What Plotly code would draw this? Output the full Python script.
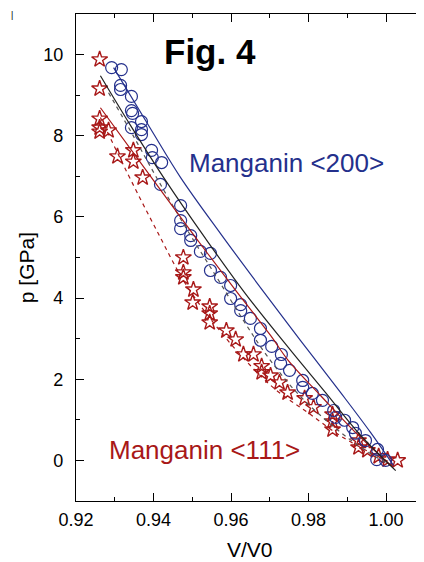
import plotly.graph_objects as go

# ---- data ----
circ_v = [0.9292, 0.9317, 0.9315, 0.9315, 0.9343, 0.9343, 0.9346, 0.9369, 0.9343, 0.9369,
          0.9369, 0.9395, 0.9397, 0.9421, 0.9418, 0.9470, 0.9470, 0.9470, 0.9496, 0.9496,
          0.9521, 0.9547, 0.9547, 0.9573, 0.9599, 0.9599, 0.9625, 0.9625, 0.9650, 0.9676,
          0.9676, 0.9705, 0.9730, 0.9728, 0.9751, 0.9785, 0.9785, 0.9810, 0.9836, 0.9865,
          0.9870, 0.9893, 0.9914, 0.9921, 0.9947, 0.9978, 0.9976, 0.9999]
circ_p = [9.68, 9.63, 9.24, 9.14, 8.97, 8.62, 8.55, 8.35, 8.20, 8.15,
          8.03, 7.64, 7.46, 7.34, 6.80, 6.28, 5.91, 5.71, 5.54, 5.42,
          5.15, 5.10, 4.68, 4.51, 4.31, 3.99, 3.84, 3.69, 3.50, 3.25,
          2.96, 2.81, 2.61, 2.39, 2.22, 1.97, 1.80, 1.65, 1.48, 1.23,
          1.06, 0.99, 0.81, 0.67, 0.49, 0.27, 0.02, 0.00]

star_v = [0.9261, 0.9261, 0.9261, 0.9261, 0.9261, 0.9284, 0.9307, 0.9348, 0.9348, 0.9372,
          0.9477, 0.9477, 0.9477, 0.9503, 0.9501, 0.9545, 0.9545, 0.9545, 0.9588, 0.9612,
          0.9632, 0.9658, 0.9679, 0.9679, 0.9702, 0.9725, 0.9746, 0.9790, 0.9813, 0.9862,
          0.9862, 0.9862, 0.9929, 0.9929, 0.9952, 0.9981, 1.0004, 1.0030]
star_p = [9.88, 9.16, 8.42, 8.20, 8.10, 8.13, 7.49, 7.64, 7.36, 6.97,
          5.00, 4.63, 4.51, 4.21, 3.89, 3.79, 3.62, 3.40, 3.20, 2.98,
          2.61, 2.61, 2.32, 2.17, 2.09, 1.92, 1.67, 1.53, 1.31, 1.13,
          0.96, 0.76, 0.49, 0.32, 0.25, 0.10, 0.02, 0.00]

blue_fit_v = [0.9297, 0.9392, 0.9470, 0.9573, 0.9676, 0.9779, 0.9883, 0.9960, 1.0019]
blue_fit_p = [9.68, 8.18, 6.97, 5.59, 4.26, 2.96, 1.67, 0.69, -0.12]

black_fit_v = [0.9263, 0.9341, 0.9431, 0.9534, 0.9637, 0.9754, 0.9844, 0.9934, 1.0025]
black_fit_p = [9.48, 8.25, 6.90, 5.47, 4.11, 2.71, 1.67, 0.62, -0.25]

gray_fit_v = [0.9284, 0.9350, 0.9412, 0.9485, 0.9560, 0.9632, 0.9692, 0.9765, 0.9845, 0.9928, 1.0010]
gray_fit_p = [9.06, 7.96, 6.90, 5.71, 4.56, 3.45, 2.59, 1.72, 0.99, 0.37, -0.12]

red_fit_v = [0.9263, 0.9400, 0.9505, 0.9612, 0.9702, 0.9748, 0.9831, 0.9921, 1.0012]
red_fit_p = [8.69, 6.90, 5.54, 4.19, 3.08, 2.46, 1.60, 0.69, -0.12]

redd_fit_v = [0.9263, 0.9304, 0.9342, 0.9408, 0.9482, 0.9560, 0.9638, 0.9718, 0.9798, 0.9880, 0.9958, 1.0012]
redd_fit_p = [8.45, 7.64, 6.90, 5.67, 4.36, 3.33, 2.46, 1.72, 1.18, 0.62, 0.20, -0.05]

x_ticks = [0.92, 0.94, 0.96, 0.98, 1.00]
y_ticks = [0, 2, 4, 6, 8, 10]

BLUE = "#24308c"
RED = "#a81818"
FONT = "Arial, Liberation Sans, sans-serif"

fig = go.Figure()

def fit(v, p, color, dash, width=1.2):
    fig.add_trace(go.Scatter(x=v, y=p, mode="lines", line=dict(color=color, width=width, dash=dash, shape="spline"),
                             hoverinfo="skip", showlegend=False))

fig.add_trace(go.Scatter(x=star_v, y=star_p, mode="markers",
                         marker=dict(symbol="star-open", size=12, color=RED, line=dict(width=1.4, color=RED)),
                         showlegend=False))
fig.add_trace(go.Scatter(x=circ_v, y=circ_p, mode="markers",
                         marker=dict(symbol="circle-open", size=12, color=BLUE, line=dict(width=1.2, color=BLUE)),
                         showlegend=False))
fit(redd_fit_v, redd_fit_p, RED, "4px,4px")
fit(gray_fit_v, gray_fit_p, "#555555", "4px,4px")
fit(red_fit_v, red_fit_p, RED, "solid")
fit(black_fit_v, black_fit_p, "#222222", "solid")
fit(blue_fit_v, blue_fit_p, BLUE, "solid")

axis_common = dict(showgrid=False, zeroline=False, showline=True, linecolor="black", linewidth=1.3,
                   mirror="ticks", ticks="inside", ticklen=8, tickwidth=1.2, tickcolor="black",
                   automargin=False, tickfont=dict(family=FONT, size=18, color="black"))

# page body has an 8px margin, so the figure is 8px smaller and margins are 8px less
fig.update_xaxes(range=[0.92, 1.0098], tickvals=x_ticks, ticktext=[f"{v:.2f}" for v in x_ticks],
                 minor=dict(ticks="inside", ticklen=4, tickwidth=1, tickcolor="black", dtick=0.01, tick0=0.92),
                 ticklabelstandoff=2, **axis_common)
fig.update_yaxes(range=[-1, 11], tickvals=y_ticks, ticktext=[str(v) for v in y_ticks],
                 minor=dict(ticks="inside", ticklen=4, tickwidth=1, tickcolor="black", dtick=1, tick0=0),
                 ticklabelstandoff=8, **axis_common)

annotations = [
    dict(text="<b>Fig. 4</b>", x=0.9545, y=10.07, xref="x", yref="y", showarrow=False,
         font=dict(family=FONT, size=35, color="black")),
    dict(text="Manganin &lt;200&gt;", x=0.9742, y=7.32, xref="x", yref="y", showarrow=False,
         font=dict(family=FONT, size=26, color=BLUE)),
    dict(text="Manganin &lt;111&gt;", x=0.9532, y=0.25, xref="x", yref="y", showarrow=False,
         font=dict(family=FONT, size=26, color=RED)),
    dict(text="V/V0", x=0.5, y=0, xref="paper", yref="paper", yshift=-48, yanchor="middle",
         xanchor="center", showarrow=False, font=dict(family=FONT, size=21, color="black")),
    dict(text="p [GPa]", x=0, y=0.478, xref="paper", yref="paper", xshift=-50, textangle=-90,
         xanchor="center", yanchor="middle", showarrow=False, font=dict(family=FONT, size=21, color="black")),
    dict(text="|", x=0, y=1, xref="paper", yref="paper", xshift=-67, yshift=6, xanchor="left", yanchor="top",
         showarrow=False, font=dict(family=FONT, size=9, color="black")),
]

fig.update_layout(width=416, height=554, margin=dict(l=68, r=0, t=6, b=61, pad=0),
                  plot_bgcolor="white", paper_bgcolor="white", annotations=annotations,
                  showlegend=False, font=dict(family=FONT))

fig.write_html("out.html")
